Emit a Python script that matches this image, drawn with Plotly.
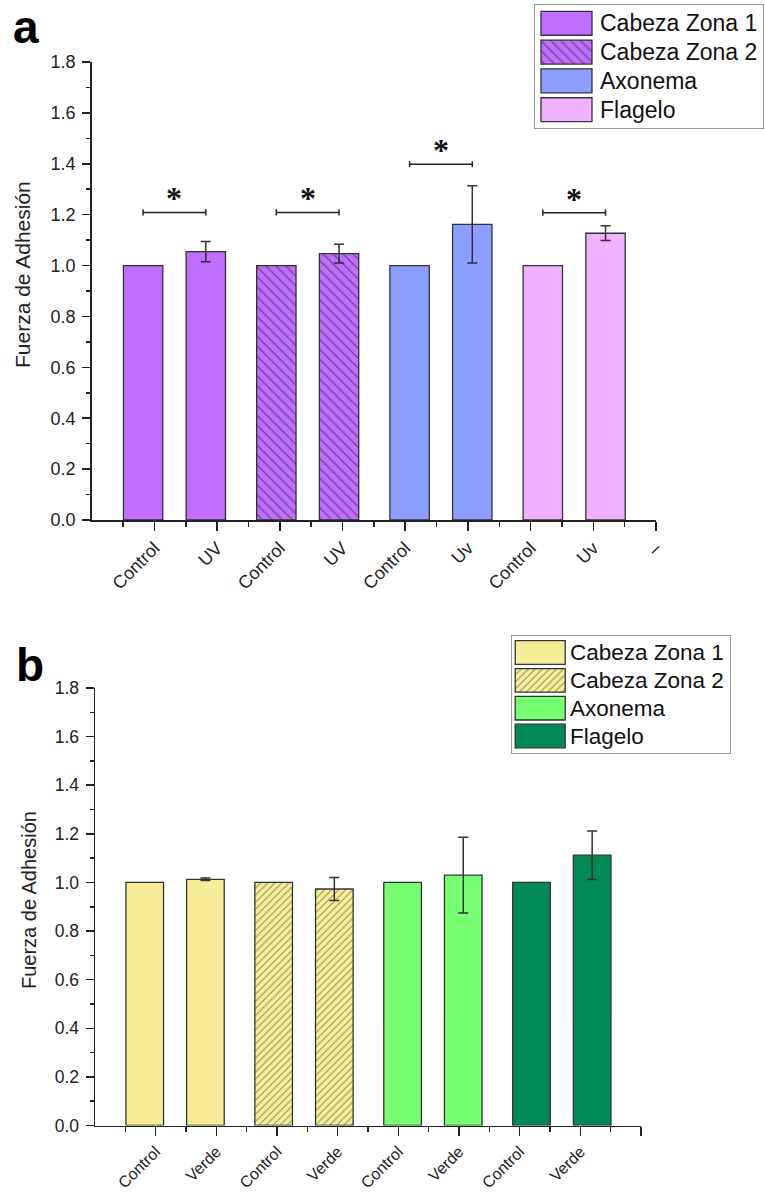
import plotly.graph_objects as go

# ---------------- data ----------------
groups = ["Cabeza Zona 1", "Cabeza Zona 2", "Axonema", "Flagelo"]

labels_a = ["Control", "UV", "Control", "UV", "Control", "Uv", "Control", "Uv", "–"]
control_a = [1.0, 1.0, 1.0, 1.0]
treat_a = [1.055, 1.047, 1.162, 1.127]
treat_err_a = [0.040, 0.037, 0.152, 0.029]
sig_y_a = [1.209, 1.209, 1.398, 1.208]

labels_b = ["Control", "Verde", "Control", "Verde", "Control", "Verde", "Control", "Verde", ""]
control_b = [1.0, 1.0, 1.0, 1.0]
treat_b = [1.013, 0.973, 1.030, 1.112]
treat_err_b = [0.005, 0.047, 0.156, 0.100]

colors_a = ["#BE6DFF", "#BE6DFF", "#8C9EFF", "#F0B2FF"]
hatch_a = ["", "\\", "", ""]
colors_b = ["#F5EE96", "#F5EE96", "#76FF73", "#008A56"]
hatch_b = ["", "/", "", ""]

yticks = [0.0, 0.2, 0.4, 0.6, 0.8, 1.0, 1.2, 1.4, 1.6, 1.8]

# ---------------- layout helpers ----------------
W, H = 765, 1193
FIRST, GSTEP = 0.82, 2.125


def px(x):
    return x / W


def py(y):
    return 1 - y / H


FONT = "Liberation Sans, Arial, sans-serif"
INK = "#222222"

fig = go.Figure()


def add_panel(xa, ya, control, treat, err, colors, hatches, bw, psize, sig_y=None):
    for g in range(len(groups)):
        xc = FIRST + g * GSTEP
        xt = xc + 1
        pat = dict(shape=hatches[g], size=psize, solidity=0.18, fgcolor="#222", fillmode="overlay")
        mk = dict(color=colors[g], line=dict(color="#333", width=1.3), pattern=pat)
        fig.add_trace(go.Bar(x=[xc], y=[control[g]], width=bw, marker=mk, xaxis=xa, yaxis=ya,
                             showlegend=False, name=groups[g]))
        fig.add_trace(go.Bar(x=[xt], y=[treat[g]], width=bw, marker=mk, xaxis=xa, yaxis=ya,
                             showlegend=False, name=groups[g],
                             error_y=dict(type="data", array=[err[g]], color="#333", thickness=1.5, width=5)))
        if sig_y is not None:
            yv = sig_y[g]
            fig.add_trace(go.Scatter(x=[xc, xc, xc, xt, xt, xt],
                                     y=[yv - 0.012, yv + 0.012, yv, yv, yv + 0.012, yv - 0.012],
                                     mode="lines", line=dict(color="#222", width=1.5),
                                     xaxis=xa, yaxis=ya, showlegend=False, hoverinfo="skip"))
            fig.add_annotation(x=(xc + xt) / 2, y=yv, xref=xa, yref=ya, text="<b>*</b>",
                               showarrow=False, yshift=14,
                               font=dict(family="Liberation Serif, Times New Roman, serif", size=32, color="#111"))


add_panel("x", "y", control_a, treat_a, treat_err_a, colors_a, hatch_a, 0.628, 7, sig_y_a)
add_panel("x2", "y2", control_b, treat_b, treat_err_b, colors_b, hatch_b, 0.62, 5)


# ---------------- custom legends (big swatches) ----------------
def add_legend(xa, ya, colors, hatches, psize, base, length, thick, tx, fsize):
    for i, gname in enumerate(groups):
        pat = dict(shape=hatches[i], size=psize, solidity=0.18, fgcolor="#222", fillmode="overlay")
        fig.add_trace(go.Bar(y=[i], x=[length], base=[base], orientation="h", width=thick,
                             marker=dict(color=colors[i], line=dict(color="#333", width=1.3), pattern=pat),
                             xaxis=xa, yaxis=ya, showlegend=False, hoverinfo="skip"))
        fig.add_annotation(x=tx, y=i, xref=xa, yref=ya, text=gname, showarrow=False,
                           xanchor="left", yanchor="middle",
                           font=dict(family=FONT, size=fsize, color="#111"))


add_legend("x3", "y3", colors_a, hatch_a, 7, 6, 51, 0.83, 63, 23)
add_legend("x4", "y4", colors_b, hatch_b, 5, 3.5, 50, 0.85, 56, 22.5)

axis_common = dict(showline=True, linecolor=INK, linewidth=1.5, showgrid=False, zeroline=False,
                   automargin=False,
                   tickfont=dict(family=FONT, size=17, color=INK), tickcolor=INK, tickwidth=1.5)


def xaxis_cfg(domain, labels, fsize, anchor):
    return dict(axis_common, domain=domain, range=[0, 9], anchor=anchor,
                tickmode="array", tickvals=list(range(1, 10)), ticktext=labels,
                ticks="outside", ticklen=9, tickangle=-45, tickfont=dict(family=FONT, size=fsize, color=INK),
                minor=dict(tickmode="array", tickvals=[k + 0.5 for k in range(9)], ticks="outside",
                           ticklen=5, tickcolor=INK, tickwidth=1.5))


def yaxis_cfg(domain, fsize, anchor, standoff):
    return dict(axis_common, domain=domain, range=[0, 1.8], anchor=anchor,
                tickmode="array", tickvals=yticks, ticktext=[f"{v:.1f}" for v in yticks],
                ticks="outside", ticklen=8, ticklabelstandoff=standoff,
                tickfont=dict(family=FONT, size=fsize, color=INK),
                minor=dict(tickmode="array", tickvals=[v + 0.1 for v in yticks[:-1]], ticks="outside",
                           ticklen=4, tickcolor=INK, tickwidth=1.5))


leg_axis = dict(showline=True, mirror=True, linecolor="#999", linewidth=1, showgrid=False,
                zeroline=False, showticklabels=False, ticks="", fixedrange=True, automargin=False)

fig.update_layout(
    width=W, height=H, margin=dict(l=0, r=0, t=0, b=0, pad=0, autoexpand=False),
    paper_bgcolor="white", plot_bgcolor="white", showlegend=False, barmode="overlay",
    hovermode=False,
    xaxis=xaxis_cfg([px(91.7), px(656)], labels_a, 18, "y"),
    yaxis=yaxis_cfg([py(520), py(62)], 18, "x", 3),
    xaxis2=xaxis_cfg([px(95), px(641)], labels_b, 16, "y2"),
    yaxis2=yaxis_cfg([py(1125.5), py(688)], 17.5, "x2", 3),
    xaxis3=dict(leg_axis, domain=[px(535), px(763)], range=[0, 228], anchor="y3"),
    yaxis3=dict(leg_axis, domain=[py(128), py(5)], range=[3.635, -0.635], anchor="x3"),
    xaxis4=dict(leg_axis, domain=[px(511.7), px(730)], range=[0, 218.3], anchor="y4"),
    yaxis4=dict(leg_axis, domain=[py(753), py(636)], range=[3.61, -0.594], anchor="x4"),
)

# y-axis titles
fig.add_annotation(x=px(22), y=py(275), xref="paper", yref="paper", text="Fuerza de Adhesión",
                   textangle=-90, showarrow=False, xanchor="center", yanchor="middle",
                   font=dict(family=FONT, size=21, color=INK))
fig.add_annotation(x=px(29), y=py(900), xref="paper", yref="paper", text="Fuerza de Adhesión",
                   textangle=-90, showarrow=False, xanchor="center", yanchor="middle",
                   font=dict(family=FONT, size=20, color=INK))

# panel letters
fig.add_annotation(x=px(26), y=1, xref="paper", yref="paper", text="<b>a</b>", showarrow=False,
                   xanchor="center", yanchor="top", borderpad=0,
                   font=dict(family=FONT, size=46, color="black"))
fig.add_annotation(x=px(30), y=py(664.6), xref="paper", yref="paper", text="<b>b</b>", showarrow=False,
                   xanchor="center", yanchor="middle", borderpad=0,
                   font=dict(family=FONT, size=46, color="black"))

fig.write_html(
    "out.html",
    config={"displayModeBar": False, "staticPlot": True},
    post_script=(
        "document.body.style.margin='0';"
        "document.documentElement.style.overflow='hidden';"
        "var d=document.getElementById('{plot_id}');"
        "d.style.position='fixed';d.style.top='0px';d.style.left='0px';"
    ),
)
